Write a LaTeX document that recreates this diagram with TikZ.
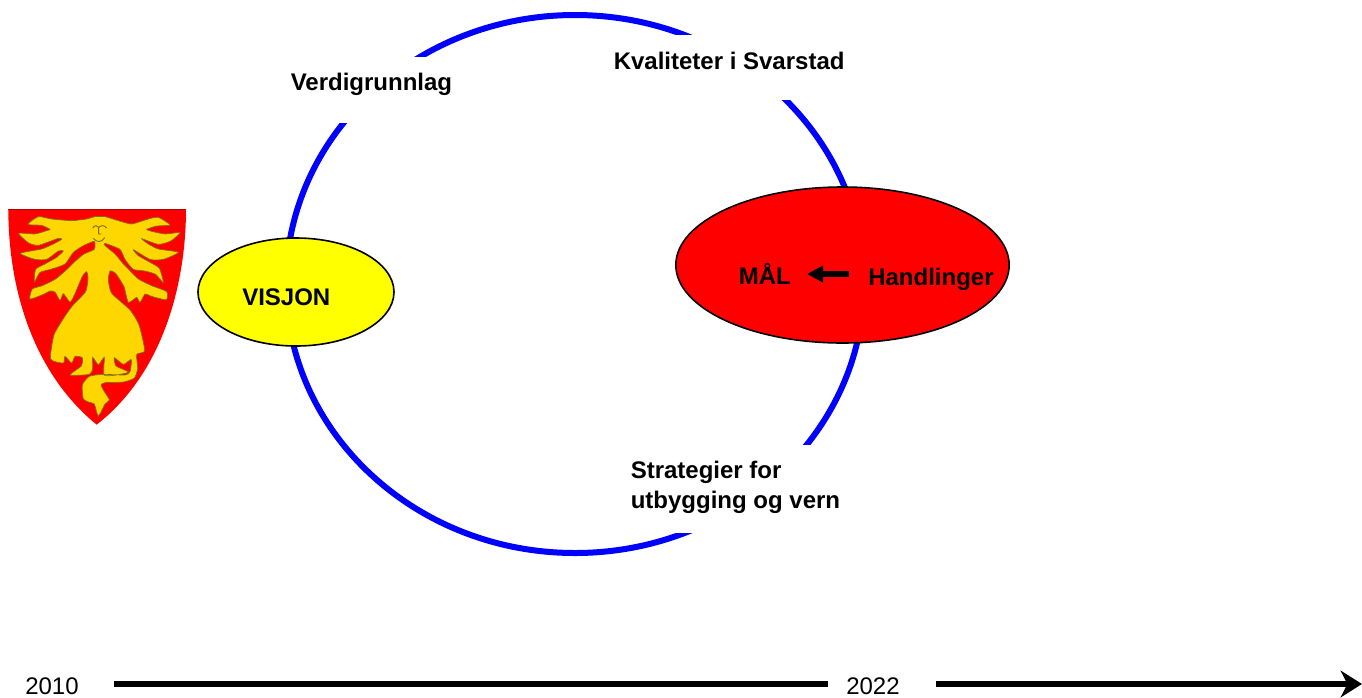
\documentclass[tikz,border=0pt]{standalone}
\usepackage{fontspec}
\setmainfont{Liberation Sans}
\usetikzlibrary{shapes.geometric, arrows.meta}
\definecolor{troll}{RGB}{255,215,0}
\definecolor{trollEdge}{RGB}{130,110,20}
\definecolor{ovalYellow}{RGB}{255,255,0}
\definecolor{ovalRed}{RGB}{255,0,0}
\definecolor{ringBlue}{RGB}{0,0,255}

\begin{document}
\begin{tikzpicture}[
                x = 0.75pt, y = -0.75pt,
                Oval/.style = {ellipse, draw=black, line width=1.2pt, inner sep=0pt},
                Label/.style = {anchor=base west, inner sep=0pt, font=\fontsize{18}{22.3}\selectfont\bfseries},
                Year/.style = {anchor=base west, inner sep=0pt, font=\fontsize{18}{22}\selectfont},
                Gap/.style = {fill=white},
                Timeline/.style = {line width=4.2pt}
                    ]
                \useasboundingbox (0,0) rectangle (1362,697);
                \draw [ringBlue, line width=4.5pt] (575,284) ellipse [x radius=289, y radius=269];
                \fill [Gap] (285,57) rectangle (458,123);
                \fill [Gap] (610,35) rectangle (850,100);
                \fill [Gap] (625,445) rectangle (845,533);

                \begin{scope}[shift={(0,200)}, x=0.25pt, y=-0.25pt]
                \fill [ovalRed] (25,28) -- (558,28) .. controls (558,230) and (500,510) .. (290,674)
                    .. controls (90,510) and (25,250) .. (25,28) -- cycle;
                \draw [ovalRed!70!black, line width=0.6pt] (25,28) -- (558,28);
                \filldraw [fill=troll, draw=trollEdge, line width=0.5pt]
                    plot [smooth cycle, tension=0.35] coordinates {
                    (285,50) (315,50) (355,62) (395,72) (445,57) (475,52) (510,75) (470,78) (440,88)
                    (455,94) (495,102) (540,98) (512,123) (475,133) (425,116) (445,132) (475,147)
                    (535,157) (490,178) (450,178) (400,149) (415,167) (450,187) (478,205) (490,248)
                    (467,223) (435,213) (400,208) (375,178) (360,148) (315,130) (315,137) (345,162)
                    (370,192) (385,207) (415,237) (455,257) (500,275) (499,299) (465,292) (450,287)
                    (435,282) (420,307) (410,292) (385,307) (372,260) (347,220) (330,213) (325,240)
                    (335,280) (390,330) (417,375) (434,452) (410,463) (413,505) (403,534) (370,546)
                    (315,548) (303,555) (313,575) (328,600) (315,612) (295,648) (283,612) (268,607)
                    (250,596) (247,555) (268,529) (310,523) (376,525) (390,515) (394,490) (393,478)
                    (370,493) (343,473) (348,498) (385,516) (350,525) (312,525) (313,472) (295,494)
                    (278,472) (278,505) (268,523) (210,525) (244,498) (247,473) (225,469) (215,489)
                    (195,469) (190,489) (152,477) (162,405) (192,353) (217,318) (257,275) (264,235)
                    (260,215) (248,227) (223,285) (210,306) (190,281) (180,301) (165,276) (150,273)
                    (130,283) (90,297) (97,267) (127,257) (167,237) (202,207) (222,187) (252,162)
                    (283,148) (283,124) (250,137) (220,157) (195,192) (155,207) (120,217) (103,246)
                    (107,208) (135,192) (170,172) (190,153) (175,153) (140,178) (105,178) (61,160)
                    (125,147) (160,132) (185,118) (175,115) (115,136) (85,128) (56,100) (105,102)
                    (140,92) (150,88) (125,76) (84,73) (115,50) (155,57) (215,62) (260,57)};
                \draw [trollEdge, line width=0.7pt]
                    (278,84) .. controls (285,74) and (292,76) .. (296,82) .. controls (303,76) and (312,74) .. (320,84)
                    (296,82) -- (296,102) -- (304,102)
                    (280,115) .. controls (290,128) and (305,128) .. (314,113);
                \end{scope}

                \node (visjon) [Oval, fill=ovalYellow, minimum width=147pt, minimum height=81pt] at (296,292) {};
                \node (maalOval) [Oval, fill=ovalRed, minimum width=250pt, minimum height=117pt] at (842.5,265) {};

                \node (verdi) [Label] at (290.5,90) {Verdigrunnlag};
                \node (kval) [Label] at (613.5,69) {Kvaliteter i Svarstad};
                \node (strat) [Label, anchor=north west, align=left] at (630.5,461) {Strategier for\\utbygging og vern};
                \node (visjonText) [Label] at (242,305) {VISJON};
                \node (maal) [Label] at (738.5,284) {MÅL};
                \node (handl) [Label] at (868,285) {Handlinger};

                \coordinate (arrowStart) at (849,274);
                \coordinate (arrowEnd) at (807,274);
                \draw [-{Triangle[length=12pt, width=12pt]}, line width=3.9pt] (arrowStart) to (arrowEnd);

                \node (y2010) [Year] at (25,694) {2010};
                \node (y2022) [Year] at (846,694) {2022};
                \coordinate (lineA) at (114,684);
                \coordinate (lineB) at (828,684);
                \coordinate (lineC) at (936,684);
                \coordinate (lineD) at (1362,684);
                \draw [Timeline] (lineA) to (lineB);
                \draw [Timeline, -{Stealth[length=16pt, width=20pt, inset=5pt]}] (lineC) to (lineD);
            \end{tikzpicture}
\end{document}
